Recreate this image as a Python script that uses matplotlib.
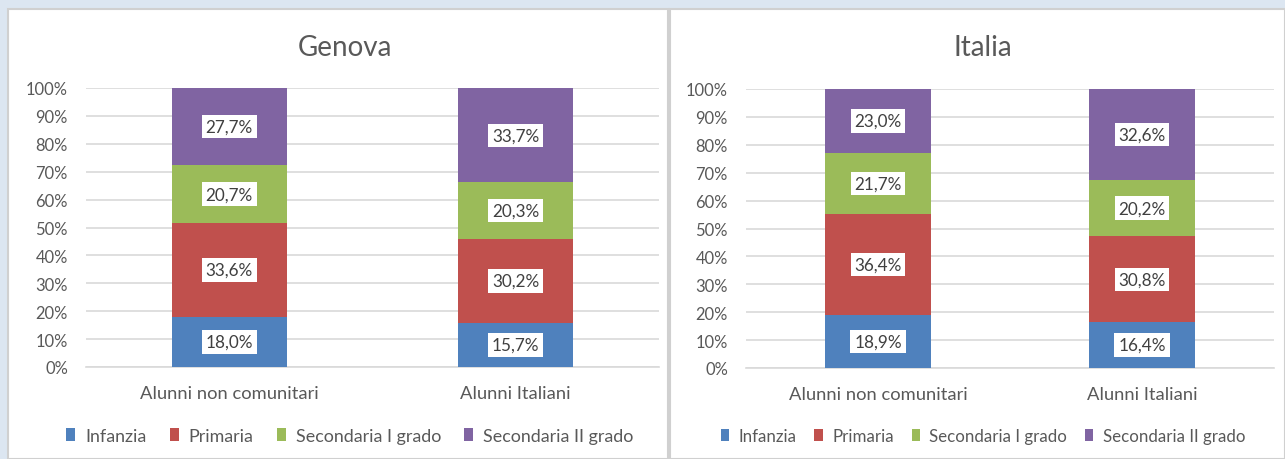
import matplotlib.pyplot as plt
from matplotlib.patches import Rectangle

plt.rcParams['font.family'] = ['Lato', 'DejaVu Sans']

# -------------------------
# Dati
# -------------------------
categorie = ["Alunni non comunitari", "Alunni Italiani"]
livelli = ["Infanzia", "Primaria", "Secondaria I grado", "Secondaria II grado"]
colori = ["#4F81BD", "#C0504D", "#9BBB59", "#8064A2"]

genova_non_com = [18.0, 33.6, 20.7, 27.7]
genova_italiani = [15.7, 30.2, 20.3, 33.7]
italia_non_com = [18.9, 36.4, 21.7, 23.0]
italia_italiani = [16.4, 30.8, 20.2, 32.6]

yticks = [0, 10, 20, 30, 40, 50, 60, 70, 80, 90, 100]

W, H = 1285, 460
GRIGIO = "#595959"


def px_box(x0, x1, ytop, ybot):
    """Converte pixel (origine in alto a sinistra) in coordinate figura"""
    return [x0 / W, (H - ybot) / H, (x1 - x0) / W, (ybot - ytop) / H]


def disegna(ax, titolo, serie, title_x, leg_x, leg_fs, leg_sp):
    bottom = [0.0, 0.0]
    for i, liv in enumerate(livelli):
        vals = [s[i] for s in serie]
        ax.bar(range(len(categorie)), vals, bottom=bottom, width=0.4,
               color=colori[i], label=liv, zorder=3)
        for j, v in enumerate(vals):
            ax.text(j, bottom[j] + v / 2, f"{v:.1f}".replace(".", ",") + "%",
                    ha="center", va="center", fontsize=12.3, color="#404040",
                    zorder=4,
                    bbox=dict(boxstyle="square,pad=0.22", fc="white", ec="none"))
        bottom = [b + v for b, v in zip(bottom, vals)]

    ax.set_xlim(-0.5, 1.5)
    ax.set_ylim(0, 100)
    ax.set_yticks(yticks)
    ax.set_yticklabels([f"{t}%" for t in yticks])
    ax.set_xticks(range(len(categorie)))
    ax.set_xticklabels(categorie)
    ax.tick_params(axis="y", length=0, pad=13, labelsize=11.9, labelcolor=GRIGIO)
    ax.tick_params(axis="x", length=0, pad=13, labelsize=13.2, labelcolor=GRIGIO)
    ax.grid(axis="y", color="#D9D9D9", lw=1.2, zorder=0)
    for s in ["top", "right", "left"]:
        ax.spines[s].set_visible(False)
    ax.spines["bottom"].set_color("#D9D9D9")
    ax.spines["bottom"].set_linewidth(1.2)
    ax.set_facecolor("white")

    # titolo centrato sul pannello, non sull'area del grafico
    fig.text(title_x / W, (H - 56) / H, titolo, fontsize=20, color=GRIGIO,
             ha="center", va="baseline")
    ax.legend(loc="center", bbox_to_anchor=(leg_x / W, (H - 437) / H),
              bbox_transform=fig.transFigure, ncol=4, frameon=False,
              fontsize=leg_fs, handlelength=0.5, handleheight=0.75,
              handletextpad=0.55, columnspacing=leg_sp, labelcolor=GRIGIO)


fig = plt.figure(figsize=(W / 100, H / 100), dpi=100)
fig.patch.set_facecolor("#DCE6F1")

# pannelli bianchi
fig.patches.append(Rectangle((8 / W, 0), 660 / W, 450 / H, transform=fig.transFigure,
                             fc="white", ec="#D0D0D0", lw=1.5, zorder=-5))
fig.patches.append(Rectangle((670 / W, 0), 615 / W, 450 / H, transform=fig.transFigure,
                             fc="white", ec="#D0D0D0", lw=1.5, zorder=-5))

ax1 = fig.add_axes(px_box(86, 659, 89, 368))
ax2 = fig.add_axes(px_box(746, 1274, 90, 369))

disegna(ax1, "Genova", [genova_non_com, genova_italiani], 345, 350, 12.9, 1.3)
disegna(ax2, "Italia", [italia_non_com, italia_italiani], 983, 983, 12.2, 1.05)

fig.savefig("out.png", dpi=100, facecolor=fig.get_facecolor())
